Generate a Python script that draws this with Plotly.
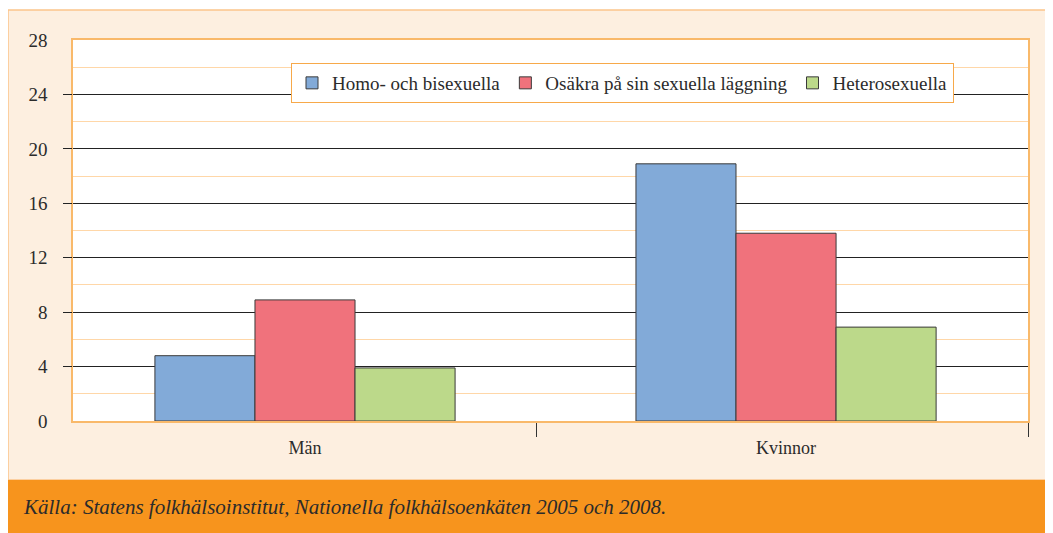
import plotly.graph_objects as go

categories = ["Män", "Kvinnor"]
series_names = ["Homo- och bisexuella", "Osäkra på sin sexuella läggning", "Heterosexuella"]
homo_bi = [4.8, 18.9]
osakra = [8.9, 13.8]
hetero = [3.9, 6.9]
y_ticks = [0, 4, 8, 12, 16, 20, 24, 28]
minor_ticks = [2, 6, 10, 14, 18, 22, 26]
x_pos = list(range(len(categories)))
x_range = [-0.4823, 1.503]
x_boundary_ticks = [0.482, 1.503]
caption = "Källa: Statens folkhälsoinstitut, Nationella folkhälsoenkäten 2005 och 2008."

colors = ["#82AAD8", "#F0727C", "#BCD98A"]
values = [homo_bi, osakra, hetero]
SERIF = "Liberation Serif"

fig = go.Figure()
for name, vals, col in zip(series_names, values, colors):
    fig.add_trace(go.Bar(
        x=x_pos, y=vals, name=name,
        marker=dict(color=col, line=dict(color="#3a3a3a", width=1)),
    ))
# empty helper trace so the overlaying tick axis is created
fig.add_trace(go.Scatter(x=[], y=[], xaxis="x", yaxis="y2", showlegend=False,
                         hoverinfo="skip"))

# page offset of 8px (body margin) compensated
OFF = 8
W, H = 1053 - OFF, 533 - OFF
ml, mr = 73 - OFF, 25
mt, mb = 40 - OFF, 533 - 421
pw, ph = W - ml - mr, H - mt - mb

def px_x(x):
    return (x - OFF - ml) / pw

def px_y(y):
    return (H - mb - (y - OFF)) / ph

shapes = [
    dict(type="rect", xref="paper", yref="paper", x0=px_x(8), x1=px_x(1050),
         y0=px_y(480), y1=px_y(10), fillcolor="#FDEFE0",
         line=dict(color="#FBC58A", width=1.5), layer="below"),
    dict(type="rect", xref="paper", yref="paper", x0=0, x1=1, y0=0, y1=1,
         fillcolor="white", line=dict(width=0), layer="below"),
    dict(type="rect", xref="paper", yref="paper", x0=px_x(8), x1=px_x(1060),
         y0=px_y(540), y1=px_y(480), fillcolor="#F7941D",
         line=dict(width=0), layer="below"),
]

fig.update_layout(
    width=W, height=H,
    margin=dict(l=ml, r=mr, t=mt, b=mb),
    paper_bgcolor="white", plot_bgcolor="white",
    barmode="group", bargap=0.376, bargroupgap=0,
    font=dict(family=SERIF, size=19, color="#2b2b2b"),
    shapes=shapes,
    showlegend=True,
    legend=dict(
        orientation="h", x=px_x(291), y=px_y(63), xanchor="left", yanchor="top",
        bgcolor="white", bordercolor="#F7A94A", borderwidth=1,
        font=dict(family=SERIF, size=19, color="#2b2b2b"),
    ),
    xaxis=dict(
        range=x_range, tickvals=x_pos, ticktext=categories,
        showline=True, linecolor="#F9B96A", linewidth=1.5, mirror=True,
        ticks="", showgrid=False, zeroline=False, ticklabelstandoff=10,
        minor=dict(tickvals=x_boundary_ticks, ticks="outside", ticklen=14,
                   tickcolor="#333", showgrid=False),
        tickfont=dict(family=SERIF, size=18),
    ),
    yaxis=dict(
        range=[0, 28], tickvals=y_ticks, ticks="", showline=True,
        linecolor="#F9B96A", linewidth=1.5, mirror=True,
        showgrid=True, gridcolor="#222", gridwidth=1, zeroline=False,
        ticklabelstandoff=20,
        minor=dict(tickvals=minor_ticks, showgrid=True, gridcolor="#FFD7A8", gridwidth=1),
        tickfont=dict(family=SERIF, size=19),
    ),
    yaxis2=dict(
        overlaying="y", side="left", anchor="x", range=[0, 28], tickvals=y_ticks[1:-1],
        ticks="outside", ticklen=9, tickcolor="#222", showticklabels=False,
        showgrid=False, zeroline=False, showline=False,
    ),
    annotations=[dict(
        text=caption, xref="paper", yref="paper", x=px_x(21), y=px_y(507),
        xanchor="left", yanchor="middle", showarrow=False,
        font=dict(family=SERIF, size=21, color="#2b2b2b", style="italic"),
    )],
)

fig.write_html("out.html")
